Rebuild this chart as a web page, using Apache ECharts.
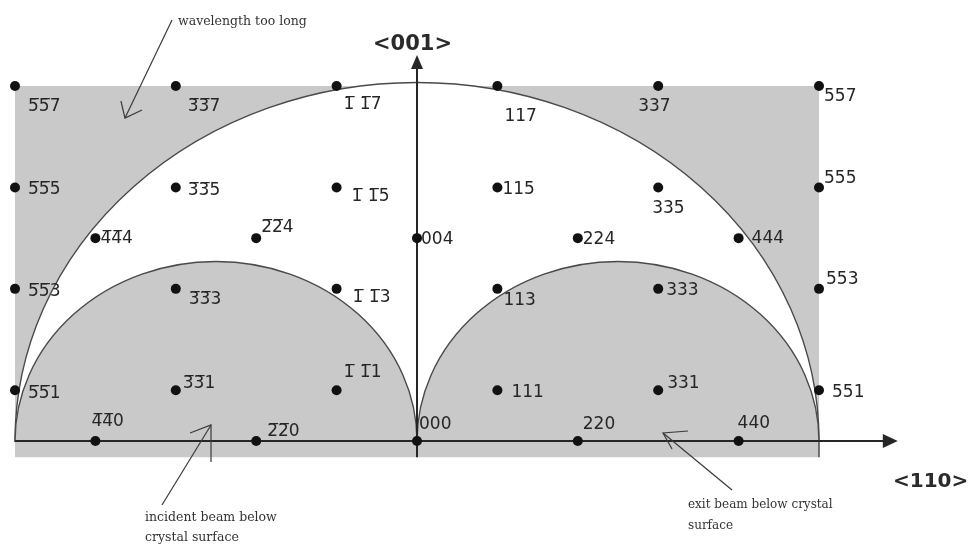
<!DOCTYPE html>
<html><head><meta charset="utf-8">
<script src="https://cdn.jsdelivr.net/npm/echarts@6/dist/echarts.min.js"></script>
<style>html,body{margin:0;padding:0;background:#fff}#c{width:971px;height:547px}</style>
</head><body><div id="c"></div>
<script>
// ---- data: reciprocal lattice points (hhl), x = h along <110>, y = l along <001>
const O = '\u0305';
const pointH = [-5,-5,-5,-5, -4,-4, -3,-3,-3,-3, -2,-2, -1,-1,-1,-1, 0,0, 1,1,1,1, 2,2, 3,3,3,3, 4,4, 5,5,5,5];
const pointL = [ 7, 5, 3, 1,  4, 0,  7, 5, 3, 1,  4, 0,  7, 5, 3, 1, 4,0, 7,5,3,1, 4,0, 7,5,3,1, 4,0, 7,5,3,1];
const pointLabels = [
  '5'+O+'5'+O+'7','5'+O+'5'+O+'5','5'+O+'5'+O+'3','5'+O+'5'+O+'1',
  '4'+O+'4'+O+'4','4'+O+'4'+O+'0',
  '3'+O+'3'+O+'7','3'+O+'3'+O+'5','3'+O+'3'+O+'3','3'+O+'3'+O+'1',
  '2'+O+'2'+O+'4','2'+O+'2'+O+'0',
  '1'+O+' 1'+O+'7','1'+O+' 1'+O+'5','1'+O+' 1'+O+'3','1'+O+' 1'+O+'1',
  '004','000',
  '117','115','113','111',
  '224','220',
  '337','335','333','331',
  '444','440',
  '557','555','553','551'
];
// label placement (left edge / vertical centre, px relative to the point)
const labelOffsets = [
  [13,21],[13,2],[13,3],[13,3],
  [5,0],[-4,-19],
  [12,21],[12,3],[13,11],[7,-7],
  [5,-11],[11,-9],
  [7,19],[15,9],[16,9],[7,-18],
  [4,1],[2,-16],
  [7,31],[5,2],[6,12],[14,2],
  [5,1],[5,-16],
  [-20,21],[-6,21],[8,2],[9,-7],
  [13,0],[-1,-17],
  [5,11],[5,-9],[7,-9],[13,2]
];
// limiting circles (Ewald construction), semi-axes in plot units
const circleCenters = [0, -2.5, 2.5];
const circleRadiusX = [5, 2.5, 2.5];
const circleRadiusY = [7.07, 3.54, 3.54];
const circleFills = ['#ffffff', '#c9c9c9', '#c9c9c9'];
// shaded region (not accessible)
const shadeX = [-5, 5];
const shadeY = [-0.32, 7];
// axis extents
const axisX = [-5, 5.98];
const axisY = [-0.32, 7.61];
// annotation arrows: [tail, tip, arm1, arm2]
const annArrows = [
  [[-3.047,8.302],[-3.632,6.369],[-3.682,6.705],[-3.420,6.527]],
  [[-3.172,-1.262],[-2.562,0.316],[-2.823,0.158],[-2.562,-0.414]],
  [[3.918,-0.966],[3.060,0.158],[3.371,0.197],[3.172,-0.158]]
];

const GRAY = '#c9c9c9', INK = '#262626', ARC = '#4a4a4a';

function renderDecor(params, api) {
  const ch = [];
  const a = api.coord([shadeX[0], shadeY[1]]);
  const b = api.coord([shadeX[1], shadeY[0]]);
  ch.push({type:'rect', shape:{x:a[0], y:a[1], width:b[0]-a[0], height:b[1]-a[1]}, style:{fill:GRAY}});
  for (let i = 0; i < circleCenters.length; i++) {
    const c = api.coord([circleCenters[i], 0]);
    const e = api.coord([circleCenters[i] + circleRadiusX[i], 0]);
    const t = api.coord([circleCenters[i], circleRadiusY[i]]);
    const rx = e[0] - c[0], ry = c[1] - t[1];
    ch.push({type:'path', shape:{pathData:'M '+(c[0]-rx)+' '+c[1]+' A '+rx+' '+ry+' 0 0 1 '+(c[0]+rx)+' '+c[1]+' Z'},
      style:{fill:circleFills[i], stroke:ARC, lineWidth:1.4}});
  }
  // short tick at right edge
  const r0 = api.coord([5, 0]), r1 = api.coord([5, shadeY[0]]);
  ch.push({type:'line', shape:{x1:r0[0], y1:r0[1], x2:r1[0], y2:r1[1]}, style:{stroke:ARC, lineWidth:1.5}});
  // x axis
  const x0 = api.coord([axisX[0], 0]), x1 = api.coord([axisX[1], 0]);
  ch.push({type:'line', shape:{x1:x0[0], y1:x0[1], x2:x1[0]-12, y2:x1[1]}, style:{stroke:INK, lineWidth:2}});
  ch.push({type:'polygon', shape:{points:[[x1[0],x1[1]],[x1[0]-15,x1[1]-7],[x1[0]-15,x1[1]+7]]}, style:{fill:INK}});
  // y axis
  const y0 = api.coord([0, axisY[0]]), y1 = api.coord([0, axisY[1]]);
  ch.push({type:'line', shape:{x1:y0[0], y1:y0[1], x2:y1[0], y2:y1[1]+12}, style:{stroke:INK, lineWidth:2}});
  ch.push({type:'polygon', shape:{points:[[y1[0],y1[1]],[y1[0]-6,y1[1]+14],[y1[0]+6,y1[1]+14]]}, style:{fill:INK}});
  // annotation arrows
  annArrows.forEach(function (ar) {
    const p = ar.map(function (q) { return api.coord(q); });
    ch.push({type:'polyline', shape:{points:[p[0], p[1]]}, style:{stroke:'#3a3a3a', lineWidth:1.2, fill:null}});
    ch.push({type:'polyline', shape:{points:[p[2], p[1], p[3]]}, style:{stroke:'#3a3a3a', lineWidth:1.2, fill:null}});
  });
  return {type:'group', children:ch};
}

const chart = echarts.init(document.getElementById('c'), null, {renderer:'canvas'});
const pts = pointH.map(function (h, i) {
  return {
    value:[h, pointL[i]],
    label:{offset:labelOffsets[i]}
  };
});
chart.setOption({
  animation:false,
  backgroundColor:'#ffffff',
  grid:{left:0, right:0, top:0, bottom:0},
  xAxis:{type:'value', min:-5.1866, max:6.8905, show:false},
  yAxis:{type:'value', min:-2.0903, max:8.6965, show:false},
  graphic:[
    {type:'text', x:178, y:22, style:{text:'wavelength too long', font:'12.5px "DejaVu Serif"', fill:'#333', align:'left', verticalAlign:'middle'}},
    {type:'text', x:373, y:45, style:{text:'<001>', font:'bold 21px "DejaVu Sans"', fill:'#2a2a2a', align:'left', verticalAlign:'middle'}},
    {type:'text', x:893, y:482, style:{text:'<110>', font:'bold 20px "DejaVu Sans"', fill:'#2a2a2a', align:'left', verticalAlign:'middle'}},
    {type:'text', x:145, y:518, style:{text:'incident beam below', font:'12.5px "DejaVu Serif"', fill:'#333', align:'left', verticalAlign:'middle'}},
    {type:'text', x:145, y:538, style:{text:'crystal surface', font:'12.5px "DejaVu Serif"', fill:'#333', align:'left', verticalAlign:'middle'}},
    {type:'text', x:688, y:505, style:{text:'exit beam below crystal', font:'12px "DejaVu Serif"', fill:'#333', align:'left', verticalAlign:'middle'}},
    {type:'text', x:688, y:526, style:{text:'surface', font:'12px "DejaVu Serif"', fill:'#333', align:'left', verticalAlign:'middle'}}
  ],
  series:[
    {type:'custom', data:[[0,0]], renderItem:renderDecor, silent:true, z:1, clip:false},
    {type:'scatter', data:pts, symbol:'circle', symbolSize:10, z:5,
      itemStyle:{color:'#111111', opacity:1},
      label:{show:true, position:'inside', align:'left', verticalAlign:'middle',
        fontFamily:'DejaVu Sans', fontSize:17, color:'#262626', opacity:1,
        formatter:function (p) { return pointLabels[p.dataIndex]; }}
    }
  ]
});
</script></body></html>
